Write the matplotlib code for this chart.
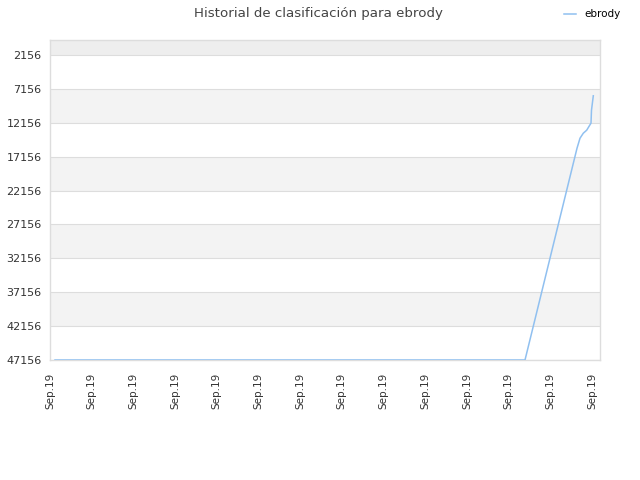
import matplotlib
matplotlib.use("Agg")
import numpy as np
import matplotlib.pyplot as plt

# positions along the time axis and rank values
xdays = [5, 475, 527, 530, 533.3, 536.7, 539.3, 541, 541.5, 543.3]
ranks = [47156, 47156, 15920, 14440, 13700, 13256, 12620, 12220, 10300, 8180]

ytickvals = [2156, 7156, 12156, 17156, 22156, 27156, 32156, 37156, 42156, 47156]
xticklabels = ["Sep.19"] * 14
xtickpos = np.linspace(0, 542, 14)

fig = plt.figure(figsize=(6.4, 4.8), dpi=100)
ax = fig.add_axes([50 / 640, 120 / 480, 550 / 640, 320 / 480])

ax.set_xlim(0, 550)
ax.set_ylim(47156, -50)

# alternating bands
ax.axhspan(-50, 2156, color="#eeeeee", zorder=0, lw=0)
for i in range(1, len(ytickvals) - 1, 2):
    ax.axhspan(ytickvals[i], ytickvals[i + 1], color="#f3f3f3", zorder=0, lw=0)
for v in ytickvals:
    ax.axhline(v, color="#dddddd", lw=0.8, zorder=1)

line, = ax.plot(xdays, ranks, color="#90c0f0", lw=1.1, zorder=3, label="ebrody")

ax.set_yticks(ytickvals)
ax.set_yticklabels([str(v) for v in ytickvals], fontsize=8, color="#333333")
ax.set_xticks(xtickpos)
ax.set_xticklabels(xticklabels, rotation=90, fontsize=7.5, color="#333333")
ax.tick_params(axis="y", length=0, pad=6)
ax.tick_params(axis="x", length=0, pad=9)

for s in ax.spines.values():
    s.set_color("#dddddd")
    s.set_linewidth(1)

fig.text(0.497, 0.972, "Historial de clasificación para ebrody", ha="center", va="center",
         fontsize=9.6, color="#444444")
fig.legend(handles=[line], loc="upper right", bbox_to_anchor=(0.985, 1.0), frameon=False,
           fontsize=7.5, handlelength=1.2, handletextpad=0.8)

fig.savefig("out.png", dpi=100)
